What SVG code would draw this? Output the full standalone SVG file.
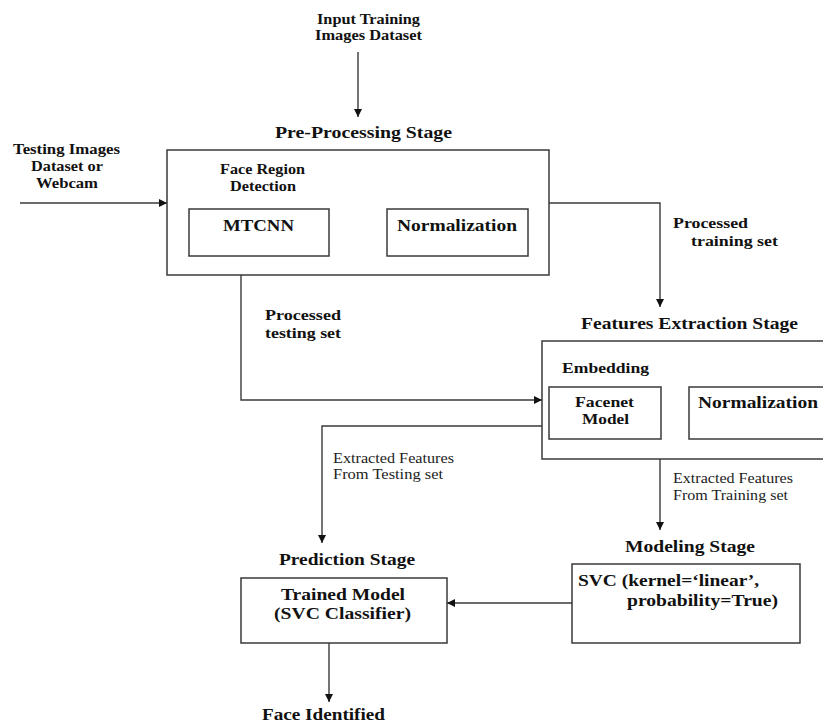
<svg xmlns="http://www.w3.org/2000/svg" width="823" height="722" viewBox="0 0 823 722">
<style>
.bg{fill:#ffffff}
.box{fill:#ffffff;stroke:#3a3a3a;stroke-width:1.5}
.ln{fill:none;stroke:#3a3a3a;stroke-width:1.4}
text{font-family:"Liberation Serif","Times New Roman",serif;fill:#111111}
.b{font-weight:bold;font-size:15px}
.t{font-weight:bold;font-size:16px}
.l{font-weight:bold;font-size:17px}
.r{font-weight:normal;font-size:15px;fill:#222222}
</style>
<defs>
<marker id="ah" markerUnits="userSpaceOnUse" markerWidth="10" markerHeight="10" refX="8" refY="4" orient="auto">
<path d="M0,0 L8,4 L0,8 Z" fill="#111111"/>
</marker>
</defs>
<rect class="bg" x="0" y="0" width="823" height="722"/>

<g id="connectors">
<path class="ln" d="M358,52 V117" marker-end="url(#ah)"/>
<path class="ln" d="M20,203 H167" marker-end="url(#ah)"/>
<path class="ln" d="M329,229 H387" marker-end="url(#ah)"/>
<path class="ln" d="M549,203 H660 V307" marker-end="url(#ah)"/>
<path class="ln" d="M241,275 V400 H542" marker-end="url(#ah)"/>
<path class="ln" d="M542,426 H322 V543" marker-end="url(#ah)"/>
<path class="ln" d="M661,407 H689" marker-end="url(#ah)"/>
<path class="ln" d="M660,459 V530" marker-end="url(#ah)"/>
<path class="ln" d="M572,603 H447" marker-end="url(#ah)"/>
<path class="ln" d="M329,643 V702" marker-end="url(#ah)"/>
</g>

<g id="input-training">
<text class="b" x="317" y="24" textLength="103" lengthAdjust="spacingAndGlyphs">Input Training</text>
<text class="b" x="315" y="40" textLength="107" lengthAdjust="spacingAndGlyphs">Images Dataset</text>
</g>

<g id="testing-input">
<text class="b" x="13" y="154" textLength="107" lengthAdjust="spacingAndGlyphs">Testing Images</text>
<text class="b" x="31" y="171" textLength="72" lengthAdjust="spacingAndGlyphs">Dataset or</text>
<text class="b" x="36" y="188" textLength="62" lengthAdjust="spacingAndGlyphs">Webcam</text>
</g>

<g id="preprocessing">
<text class="t" x="275" y="138" textLength="177" lengthAdjust="spacingAndGlyphs">Pre-Processing Stage</text>
<rect class="box" x="167" y="150" width="382" height="125"/>
<text class="b" x="220" y="174" textLength="85" lengthAdjust="spacingAndGlyphs">Face Region</text>
<text class="b" x="230" y="191" textLength="66" lengthAdjust="spacingAndGlyphs">Detection</text>
</g>

<g id="mtcnn">
<rect class="box" x="189" y="209" width="140" height="47"/>
<text class="l" x="223" y="231" textLength="71" lengthAdjust="spacingAndGlyphs">MTCNN</text>
</g>

<g id="normalization1">
<rect class="box" x="387" y="209" width="141" height="47"/>
<text class="l" x="397" y="231" textLength="120" lengthAdjust="spacingAndGlyphs">Normalization</text>
</g>

<g id="label-training">
<text class="b" x="673" y="228" textLength="75" lengthAdjust="spacingAndGlyphs">Processed</text>
<text class="b" x="691" y="246" textLength="87" lengthAdjust="spacingAndGlyphs">training set</text>
</g>

<g id="label-testing">
<text class="b" x="265" y="320" textLength="76" lengthAdjust="spacingAndGlyphs">Processed</text>
<text class="b" x="265" y="338" textLength="76" lengthAdjust="spacingAndGlyphs">testing set</text>
</g>

<g id="features-extraction">
<text class="t" x="581" y="329" textLength="217" lengthAdjust="spacingAndGlyphs">Features Extraction Stage</text>
<rect class="box" x="542" y="341" width="290" height="118"/>
<text class="b" x="562" y="373" textLength="87" lengthAdjust="spacingAndGlyphs">Embedding</text>
</g>

<g id="facenet">
<rect class="box" x="549" y="387" width="112" height="52"/>
<text class="b" x="575" y="407" textLength="59" lengthAdjust="spacingAndGlyphs">Facenet</text>
<text class="b" x="582" y="424" textLength="47" lengthAdjust="spacingAndGlyphs">Model</text>
</g>

<g id="normalization2">
<rect class="box" x="689" y="387" width="143" height="52"/>
<text class="l" x="698" y="408" textLength="120" lengthAdjust="spacingAndGlyphs">Normalization</text>
</g>

<g id="label-extracted-testing">
<text class="r" x="333" y="463" textLength="121" lengthAdjust="spacingAndGlyphs">Extracted Features</text>
<text class="r" x="333" y="479" textLength="110" lengthAdjust="spacingAndGlyphs">From Testing set</text>
</g>

<g id="label-extracted-training">
<text class="r" x="673" y="483" textLength="120" lengthAdjust="spacingAndGlyphs">Extracted Features</text>
<text class="r" x="673" y="500" textLength="115" lengthAdjust="spacingAndGlyphs">From Training set</text>
</g>

<g id="prediction">
<text class="t" x="279" y="565" textLength="136" lengthAdjust="spacingAndGlyphs">Prediction Stage</text>
<rect class="box" x="241" y="578" width="206" height="65"/>
<text class="l" x="281" y="600" textLength="124" lengthAdjust="spacingAndGlyphs">Trained Model</text>
<text class="l" x="274" y="619" textLength="137" lengthAdjust="spacingAndGlyphs">(SVC Classifier)</text>
</g>

<g id="modeling">
<text class="t" x="625" y="552" textLength="130" lengthAdjust="spacingAndGlyphs">Modeling Stage</text>
<rect class="box" x="572" y="564" width="228" height="79"/>
<text class="l" x="578" y="586" textLength="181" lengthAdjust="spacingAndGlyphs">SVC (kernel=‘linear’,</text>
<text class="l" x="627" y="606" textLength="151" lengthAdjust="spacingAndGlyphs">probability=True)</text>
</g>

<g id="face-identified">
<text class="t" x="262" y="720" textLength="123" lengthAdjust="spacingAndGlyphs">Face Identified</text>
</g>
</svg>
